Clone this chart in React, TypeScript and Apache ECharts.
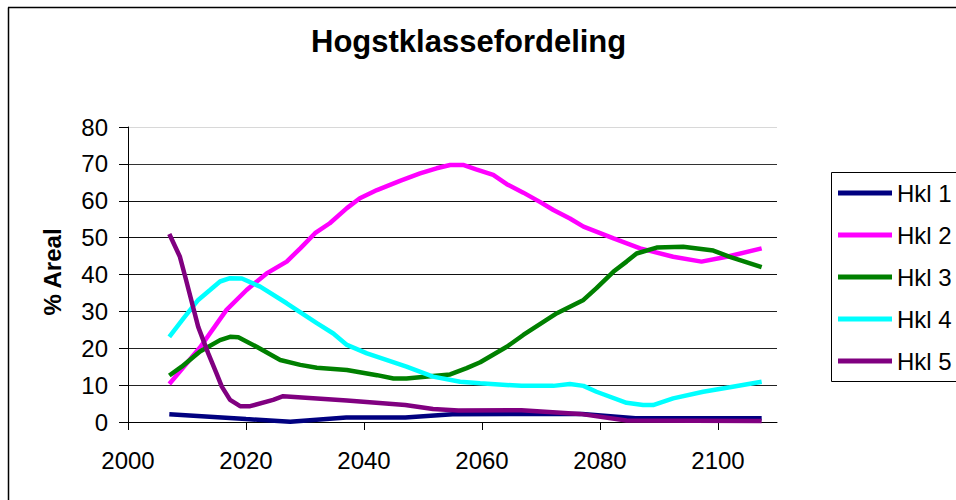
import React, { useEffect, useRef } from "react";
import * as echarts from "echarts";

const titleText = "Hogstklassefordeling";
const yAxisTitle = "% Areal";
const seriesNames = ["Hkl 1", "Hkl 2", "Hkl 3", "Hkl 4", "Hkl 5"];
const xTickValues = [2000, 2020, 2040, 2060, 2080, 2100];

const hkl1Years = [2007, 2020, 2027.5, 2037, 2047, 2055, 2067, 2077, 2086, 2107.4];
const hkl1Values = [2.1, 0.8, 0.1, 1.2, 1.2, 2.1, 2.2, 2.2, 1.0, 1.0];

const hkl2Years = [2007, 2012.2, 2016.7, 2020.1, 2023.5, 2026.9, 2029.2, 2031.7, 2034.2, 2037.1, 2039.3, 2042.2, 2046.1, 2049.5, 2052.3, 2054.6, 2056.8, 2059, 2061.9, 2064.2, 2067, 2069.8, 2072.1, 2074.9, 2077.2, 2082.3, 2086.8, 2092.4, 2097.2, 2101.5, 2107.4];
const hkl2Values = [10.3, 20.2, 30.4, 35.8, 40.3, 43.5, 47.1, 51.2, 53.9, 58.0, 60.7, 62.9, 65.4, 67.4, 68.8, 69.7, 69.7, 68.5, 67.0, 64.5, 62.2, 59.7, 57.5, 55.2, 53.0, 49.8, 47.1, 44.8, 43.5, 44.8, 47.1];

const hkl3Years = [2007, 2009.1, 2012.2, 2015.6, 2017.3, 2018.7, 2021.8, 2025.8, 2029.2, 2032, 2037.1, 2042.2, 2045, 2047.2, 2051.7, 2054.6, 2057.4, 2059.7, 2064.2, 2067, 2072.7, 2077.2, 2079.4, 2082.3, 2084.5, 2086.2, 2089.6, 2094.1, 2099.2, 2102, 2107.4];
const hkl3Values = [12.6, 15.0, 19.1, 22.2, 23.1, 23.0, 20.4, 16.8, 15.5, 14.7, 14.1, 12.7, 11.8, 11.8, 12.5, 12.9, 14.6, 16.2, 20.4, 23.6, 29.5, 33.1, 36.3, 40.8, 43.5, 45.7, 47.3, 47.5, 46.5, 44.8, 42.0];

const hkl4Years = [2007, 2009.4, 2011.9, 2013.9, 2015.6, 2017.3, 2019.3, 2022.4, 2026.9, 2032, 2034.8, 2037.1, 2040.5, 2047.2, 2051.7, 2056.3, 2059.7, 2066.7, 2072.1, 2074.9, 2077.2, 2079.4, 2084.5, 2087.3, 2089, 2092.4, 2097.5, 2102, 2107.4];
const hkl4Values = [23.1, 28.1, 33.1, 35.8, 38.1, 39.0, 38.9, 36.7, 32.2, 26.8, 24.0, 20.9, 18.6, 15.0, 12.3, 10.9, 10.5, 9.8, 9.8, 10.3, 9.8, 8.2, 5.2, 4.6, 4.6, 6.4, 8.2, 9.4, 10.9];

const hkl5Years = [2007, 2008.8, 2009.7, 2011.9, 2013.6, 2015, 2015.9, 2017.3, 2019, 2020.7, 2024.6, 2026.3, 2037.1, 2047, 2051.7, 2056, 2066.7, 2076.6, 2084.5, 2107.4];
const hkl5Values = [51.0, 44.8, 39.4, 25.8, 18.6, 13.2, 9.6, 6.0, 4.3, 4.3, 6.0, 7.0, 5.8, 4.6, 3.5, 3.1, 3.2, 2.2, 0.4, 0.3];

const allYears = [hkl1Years, hkl2Years, hkl3Years, hkl4Years, hkl5Years];
const allValues = [hkl1Values, hkl2Values, hkl3Values, hkl4Values, hkl5Values];
const lineColors = ["#000080", "#FF00FF", "#008000", "#00FFFF", "#800080"];

const FONT = "'Liberation Sans', Arial, sans-serif";

export default function App() {
  const ref = useRef<HTMLDivElement>(null);
  useEffect(() => {
    if (!ref.current) return;
    const chart = echarts.init(ref.current, undefined, { renderer: "svg" });
    const series = seriesNames.map((name, i) => ({
      name,
      type: "line",
      data: allYears[i].map((y, j) => [y, allValues[i][j]]),
      showSymbol: false,
      symbol: "none",
      lineStyle: { color: lineColors[i], width: 4.5 },
      itemStyle: { color: lineColors[i] },
      z: 2 + i,
    }));
    chart.setOption({
      animation: false,
      backgroundColor: "#ffffff",
      textStyle: { fontFamily: FONT },
      title: {
        text: titleText,
        left: 311,
        top: 26,
        padding: 0,
        textStyle: { fontFamily: FONT, fontSize: 31, fontWeight: "bold", color: "#000" },
      },
      legend: {
        orient: "vertical",
        left: 831,
        top: 172,
        padding: [9, 0, 8, 7],
        borderWidth: 0,
        itemWidth: 54,
        itemHeight: 5,
        itemGap: 18,
        icon: "rect",
        data: seriesNames,
        textStyle: { fontFamily: FONT, fontSize: 24, lineHeight: 24, color: "#000", padding: 0 },
      },
      grid: { left: 128, right: 179, top: 127, bottom: 78, containLabel: false },
      xAxis: {
        type: "value",
        min: 2000,
        max: 2110,
        interval: 20,
        axisLine: { show: true, lineStyle: { color: "#000", width: 1 } },
        axisTick: { show: true, length: 8, inside: false, customValues: xTickValues, lineStyle: { color: "#000" } },
        axisLabel: {
          margin: 26,
          fontSize: 24,
          fontFamily: FONT,
          color: "#000",
          customValues: xTickValues,
          formatter: (v: number) => String(v),
        },
        splitLine: { show: false },
      },
      yAxis: {
        type: "value",
        min: 0,
        max: 80,
        interval: 10,
        axisLine: { show: true, lineStyle: { color: "#000", width: 1 } },
        axisTick: { show: true, length: 9, inside: false, lineStyle: { color: "#000" } },
        axisLabel: { margin: 20, fontSize: 24, fontFamily: FONT, color: "#000" },
        splitLine: {
          show: true,
          lineStyle: {
            color: ["#000", "#222", "#222", "#222", "#111", "#111", "#111", "#333", "#d8d8d8"],
            width: 1,
          },
        },
      },
      graphic: [
        {
          type: "text",
          x: 52,
          y: 272,
          rotation: Math.PI / 2,
          style: {
            text: yAxisTitle,
            fontFamily: FONT,
            fontSize: 24,
            fontWeight: "bold",
            fill: "#000",
            align: "center",
            verticalAlign: "middle",
          },
        },
        {
          type: "rect",
          shape: { x: 831.5, y: 172.5, width: 200, height: 209 },
          style: { fill: "none", stroke: "#000", lineWidth: 1 },
          z: 0,
        },
        {
          type: "line",
          shape: { x1: 8.5, y1: 7.5, x2: 8.5, y2: 500 },
          style: { stroke: "#000", lineWidth: 1.5 },
        },
        {
          type: "line",
          shape: { x1: 8, y1: 7.5, x2: 956, y2: 7.5 },
          style: { stroke: "#000", lineWidth: 1.5 },
        },
      ],
      series,
    });
    return () => chart.dispose();
  }, []);
  return (
    <div
      ref={ref}
      style={{ position: "fixed", left: 0, top: 0, width: 956, height: 500 }}
    />
  );
}
